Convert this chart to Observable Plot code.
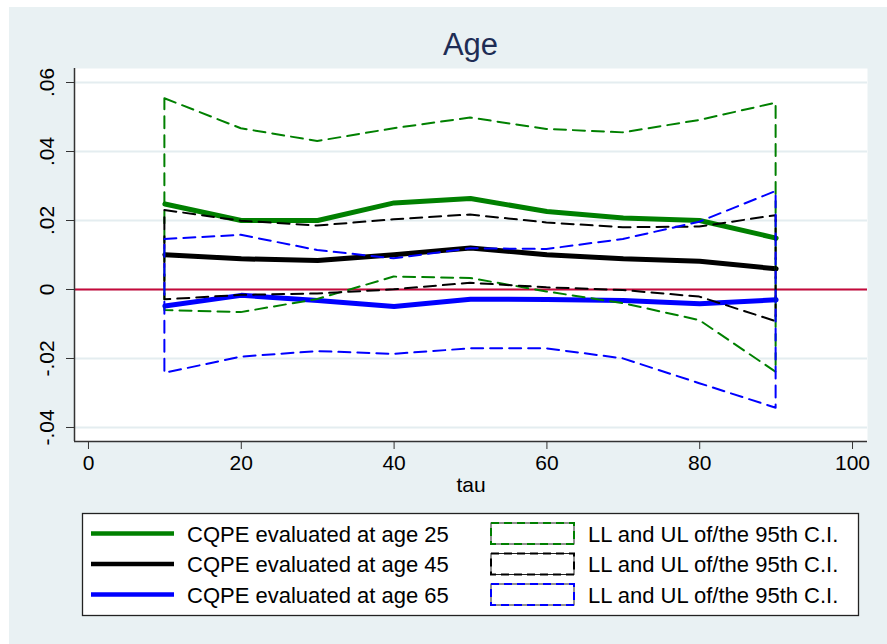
<!DOCTYPE html>
<html>
<head>
<meta charset="utf-8">
<script src="https://cdn.jsdelivr.net/npm/d3@7"></script>
<script src="https://cdn.jsdelivr.net/npm/@observablehq/plot@0.6"></script>
<style>
  html, body { margin: 0; padding: 0; background: #ffffff; }
  #page { position: relative; width: 887px; height: 644px; overflow: hidden;
          font-family: "Liberation Sans", Arial, sans-serif; }
  #panel { position: absolute; left: 9px; top: 7px; width: 878px; height: 637px; background: #e9f1f3; }
  #title, #chart, #legend { position: absolute; left: 0; }
  #title { top: 0; }
  #chart { top: 60px; }
  #legend { top: 500px; }
  svg { display: block; overflow: visible; }
</style>
</head>
<body>
<div id="page">
  <div id="panel"></div>
  <div id="title"></div>
  <div id="chart"></div>
  <div id="legend"></div>
</div>
<script>
// Quantile levels
const tau = [10, 20, 30, 40, 50, 60, 70, 80, 90];

// CQPE of age, evaluated at ages 25 / 45 / 65, with 95% C.I. bounds
const age25    = [0.0248, 0.0200, 0.0200, 0.0251, 0.0264, 0.0226, 0.0207, 0.0200, 0.0149];
const age25_ul = [0.0553, 0.0466, 0.0429, 0.0466, 0.0497, 0.0464, 0.0454, 0.0490, 0.0540];
const age25_ll = [-0.0061, -0.0067, -0.0029, 0.0036, 0.0032, -0.0007, -0.0041, -0.0090, -0.0240];

const age45    = [0.0101, 0.0089, 0.0084, 0.0101, 0.0120, 0.0101, 0.0089, 0.0082, 0.0060];
const age45_ul = [0.0229, 0.0198, 0.0184, 0.0202, 0.0216, 0.0193, 0.0179, 0.0181, 0.0214];
const age45_ll = [-0.0030, -0.0017, -0.0013, -0.0001, 0.0018, 0.0005, -0.0003, -0.0022, -0.0093];

const age65    = [-0.0048, -0.0017, -0.0032, -0.0049, -0.0028, -0.0029, -0.0032, -0.0041, -0.0030];
const age65_ul = [0.0145, 0.0157, 0.0113, 0.0089, 0.0118, 0.0116, 0.0145, 0.0195, 0.0284];
const age65_ll = [-0.0243, -0.0196, -0.0180, -0.0188, -0.0172, -0.0172, -0.0201, -0.0273, -0.0344];

// Axis ticks and labels
const xTicks = [0, 20, 40, 60, 80, 100];
const yTicks = [-0.04, -0.02, 0, 0.02, 0.04, 0.06];
const yTickLabels = ["-.04", "-.02", "0", ".02", ".04", ".06"];

// Series and legend
const ages = ["25", "45", "65"];
const seriesColors = ["#008000", "#000000", "#0000ff"];
const lineLabels = ["CQPE evaluated at age 25", "CQPE evaluated at age 45", "CQPE evaluated at age 65"];
const bandLabels = ["LL and UL of/the 95th C.I.", "LL and UL of/the 95th C.I.", "LL and UL of/the 95th C.I."];

const titleText = "Age";
const xLabel = "tau";

// Long-format tables built from the arrays above
const est = [age25, age45, age65];
const ul = [age25_ul, age45_ul, age65_ul];
const ll = [age25_ll, age45_ll, age65_ll];
const estimates = ages.flatMap((a, k) => tau.map((t, i) => ({age: a, tau: t, value: est[k][i]})));
const bands = ages.flatMap((a, k) => tau.map((t, i) => ({age: a, tau: t, lo: ll[k][i], hi: ul[k][i]})));

const font = '"Liberation Sans", Arial, sans-serif';
const axisColor = "#333333";
const xDomain = [-1.83, 101.96];
const yDomain = [-0.04406, 0.06406];

// Title
const titleSvg = d3.create("svg").attr("width", 887).attr("height", 60);
titleSvg.append("text")
  .attr("x", 470.5).attr("y", 55)
  .attr("text-anchor", "middle")
  .attr("font-family", font).attr("font-size", 31)
  .attr("fill", "#1e2d55")
  .text(titleText);
document.getElementById("title").append(titleSvg.node());

// Main chart
const chart = Plot.plot({
  width: 887,
  height: 440,
  marginTop: 8,
  marginBottom: 59,
  marginLeft: 74,
  marginRight: 20,
  style: {background: "transparent", fontFamily: font, color: "#000"},
  x: {domain: xDomain},
  y: {domain: yDomain},
  color: {domain: ages, range: seriesColors},
  marks: [
    Plot.frame({fill: "white"}),
    Plot.gridY(yTicks, {stroke: "#e4edf0", strokeOpacity: 1, strokeWidth: 2}),
    Plot.ruleY([0], {stroke: "#c5093b", strokeWidth: 2}),
    Plot.line(estimates, {x: "tau", y: "value", z: "age", stroke: "age", strokeWidth: 5,
                          strokeLinecap: "round", strokeLinejoin: "round"}),
    Plot.areaY(bands, {x: "tau", y1: "lo", y2: "hi", z: "age", fill: "none", stroke: "age",
                       strokeWidth: 2, strokeDasharray: "12,7"}),
    Plot.ruleX([xDomain[0]], {stroke: axisColor, strokeWidth: 1.5}),
    Plot.ruleY([yDomain[0]], {stroke: axisColor, strokeWidth: 1.5}),
    Plot.axisY(yTicks, {tickSize: 8, tickFormat: () => "", stroke: axisColor, label: null}),
    Plot.text(yTicks, {y: (d) => d, text: (d, i) => yTickLabels[i], frameAnchor: "left", dx: -21,
                       rotate: -90, lineAnchor: "bottom", textAnchor: "middle", fontSize: 21, fill: "#000"}),
    Plot.axisX(xTicks, {tickSize: 8, tickPadding: 6, fontSize: 21, stroke: axisColor, fill: "#000", label: null}),
    Plot.text([xLabel], {frameAnchor: "bottom", dy: 50, lineAnchor: "bottom", fontSize: 21, fill: "#000"})
  ]
});
document.getElementById("chart").append(chart);

// Legend
const leg = d3.create("svg").attr("width", 887).attr("height", 144);
leg.append("rect")
  .attr("x", 82.5).attr("y", 13.5).attr("width", 776).attr("height", 102)
  .attr("fill", "white").attr("stroke", "#222").attr("stroke-width", 1.3);
const rowY = [33.5, 64, 94.5];
ages.forEach((a, k) => {
  const y = rowY[k];
  leg.append("line")
    .attr("x1", 91).attr("x2", 174).attr("y1", y).attr("y2", y)
    .attr("stroke", seriesColors[k]).attr("stroke-width", 4.5);
  leg.append("text")
    .attr("x", 187).attr("y", y + 8)
    .attr("font-family", font).attr("font-size", 22).attr("fill", "#000")
    .text(lineLabels[k]);
  leg.append("rect")
    .attr("x", 491).attr("y", y - 10.5).attr("width", 83).attr("height", 21)
    .attr("fill", "white").attr("stroke", "#222").attr("stroke-width", 1);
  leg.append("rect")
    .attr("x", 491).attr("y", y - 10.5).attr("width", 83).attr("height", 21)
    .attr("fill", "none").attr("stroke", seriesColors[k]).attr("stroke-width", 2)
    .attr("stroke-dasharray", "8,5");
  leg.append("text")
    .attr("x", 588).attr("y", y + 8)
    .attr("font-family", font).attr("font-size", 22).attr("fill", "#000")
    .text(bandLabels[k]);
});
document.getElementById("legend").append(leg.node());
</script>
</body>
</html>
